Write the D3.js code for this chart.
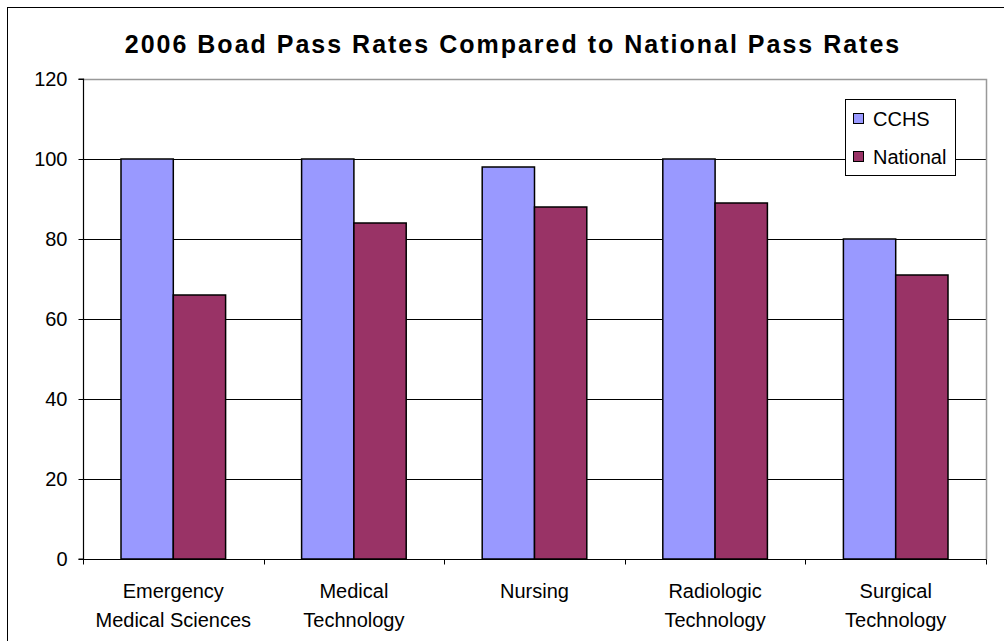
<!DOCTYPE html>
<html>
<head>
<meta charset="utf-8">
<script src="https://cdn.jsdelivr.net/npm/d3@7/dist/d3.min.js"></script>
<style>
  html, body { margin: 0; padding: 0; background: #fff; }
  svg { display: block; font-family: Arial, "Liberation Sans", sans-serif; }
</style>
</head>
<body>
<svg id="chart" width="1004" height="641"></svg>
<script>
const categories = [
  ["Emergency", "Medical Sciences"],
  ["Medical", "Technology"],
  ["Nursing"],
  ["Radiologic", "Technology"],
  ["Surgical", "Technology"]
];
const seriesNames = ["CCHS", "National"];
const cchsValues = [100, 100, 98, 100, 80];
const nationalValues = [66, 84, 88, 89, 71];
const yTicks = [0, 20, 40, 60, 80, 100, 120];
const colors = ["#9999FF", "#993366"];
const title = "2006 Boad Pass Rates Compared to National Pass Rates";

const svg = d3.select("#chart");
const plot = { left: 83, right: 986, top: 79, bottom: 559 };

// outer chart frame
svg.append("rect")
  .attr("x", 7.5).attr("y", 7.5)
  .attr("width", 1010).attr("height", 660)
  .attr("fill", "#fff").attr("stroke", "#000").attr("stroke-width", 1);

// title
svg.append("text")
  .attr("x", 513).attr("y", 53)
  .attr("text-anchor", "middle")
  .attr("font-size", 25).attr("font-weight", "bold")
  .attr("letter-spacing", "2px")
  .attr("fill", "#000")
  .text(title);

const keys = categories.map((c, i) => i);
const x = d3.scaleBand().domain(keys).range([plot.left, plot.right]).paddingInner(0).paddingOuter(0);
const y = d3.scaleLinear().domain([0, 120]).range([plot.bottom, plot.top]);
const barPad = 38;
const x1 = d3.scaleBand().domain([0, 1]).range([barPad, x.bandwidth() - barPad]);

// gridlines
svg.append("g").selectAll("line")
  .data(yTicks.filter(t => t > 0 && t < 120))
  .join("line")
  .attr("x1", plot.left).attr("x2", plot.right)
  .attr("y1", d => Math.round(y(d)) + 0.5).attr("y2", d => Math.round(y(d)) + 0.5)
  .attr("stroke", "#000").attr("stroke-width", 1);

// plot border (top/right grey)
svg.append("path")
  .attr("d", `M${plot.left},${plot.top + 0.5}H${plot.right + 0.5}V${plot.bottom}`)
  .attr("fill", "none").attr("stroke", "#999").attr("stroke-width", 1.5);

// bars
const series = [cchsValues, nationalValues];
const g = svg.append("g");
series.forEach((vals, s) => {
  g.selectAll(".bar" + s)
    .data(vals)
    .join("rect")
    .attr("x", (d, i) => x(i) + x1(s))
    .attr("y", d => y(d))
    .attr("width", x1.bandwidth())
    .attr("height", d => y(0) - y(d))
    .attr("fill", colors[s])
    .attr("stroke", "#000").attr("stroke-width", 1.5);
});

// y axis
const yAxis = d3.axisLeft(y).tickValues(yTicks).tickSize(5).tickPadding(11);
const ya = svg.append("g").attr("transform", `translate(${plot.left + 0.5},0)`).call(yAxis);
ya.select(".domain").attr("stroke", "#000").attr("stroke-width", 1.2).attr("d", `M-5,${plot.top}H0V${plot.bottom}H-5`);
ya.selectAll(".tick line").attr("stroke", "#000");
ya.selectAll(".tick text").attr("font-size", 20).attr("fill", "#000")
  .attr("font-family", "Arial, 'Liberation Sans', sans-serif");

// x axis
const xAxis = d3.axisBottom(x).tickSize(0).tickFormat(() => "");
const xa = svg.append("g").attr("transform", `translate(0,${plot.bottom + 0.5})`).call(xAxis);
xa.select(".domain").attr("stroke", "#000").attr("stroke-width", 1.2).attr("d", `M${plot.left},0H${plot.right + 0.5}`);
const boundaries = keys.map(k => x(k)).concat([plot.right]);
xa.selectAll(".bnd").data(boundaries).join("line")
  .attr("x1", d => Math.round(d) + 0.5).attr("x2", d => Math.round(d) + 0.5)
  .attr("y1", 0).attr("y2", 5)
  .attr("stroke", "#000").attr("stroke-width", 1);

// category labels
const lab = svg.append("g");
categories.forEach((lines, i) => {
  const t = lab.append("text")
    .attr("x", x(i) + x.bandwidth() / 2)
    .attr("text-anchor", "middle")
    .attr("font-size", 20).attr("fill", "#000");
  lines.forEach((ln, j) => {
    t.append("tspan").attr("x", x(i) + x.bandwidth() / 2).attr("y", 598 + j * 29).text(ln);
  });
});

// legend
const lg = svg.append("g");
lg.append("rect").attr("x", 845.5).attr("y", 99.5).attr("width", 110).attr("height", 76)
  .attr("fill", "#fff").attr("stroke", "#000").attr("stroke-width", 1);
seriesNames.forEach((name, i) => {
  const cy = 119 + i * 38;
  lg.append("rect").attr("x", 853.5).attr("y", cy - 5.5).attr("width", 10).attr("height", 10)
    .attr("fill", colors[i]).attr("stroke", "#000").attr("stroke-width", 1);
  lg.append("text").attr("x", 873).attr("y", cy + 6.5)
    .attr("font-size", 20).attr("fill", "#000").text(name);
});
</script>
</body>
</html>
